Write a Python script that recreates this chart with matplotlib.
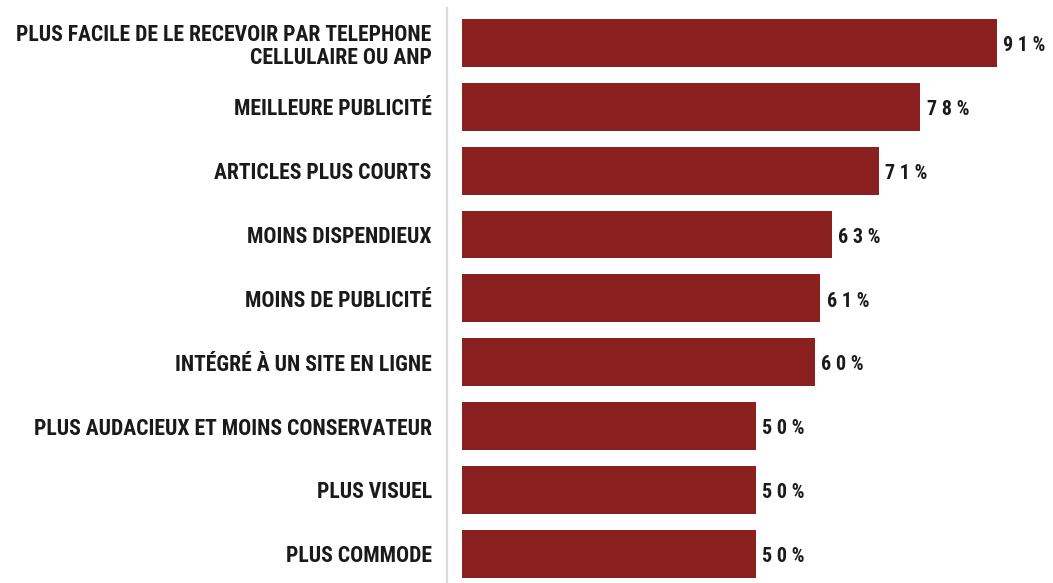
import matplotlib
matplotlib.use("Agg")
import matplotlib.pyplot as plt

categories = [
    "PLUS FACILE DE LE RECEVOIR PAR TELEPHONE\nCELLULAIRE OU ANP",
    "MEILLEURE PUBLICITÉ",
    "ARTICLES PLUS COURTS",
    "MOINS DISPENDIEUX",
    "MOINS DE PUBLICITÉ",
    "INTÉGRÉ À UN SITE EN LIGNE",
    "PLUS AUDACIEUX ET MOINS CONSERVATEUR",
    "PLUS VISUEL",
    "PLUS COMMODE",
]
values = [91, 78, 71, 63, 61, 60, 50, 50, 50]

BAR_COLOR = "#8B2020"
TEXT_COLOR = "#1a1a1a"
FONT = ["Roboto Condensed", "Liberation Sans", "DejaVu Sans"]

fig = plt.figure(figsize=(10.53, 5.83), dpi=100)
W, H = 1053, 583
ax = fig.add_axes([447 / W, 0, (W - 447) / W, 1 - 8 / H])

pos = list(range(len(categories)))
ax.barh(pos, values, height=0.75, color=BAR_COLOR, zorder=2)

ax.set_xlim(-2.6, 100.6)
ax.set_ylim(8.46, -0.55)

ax.set_yticks(pos)
ax.set_yticklabels(categories, fontsize=15.6, fontweight="bold",
                   family=FONT, color=TEXT_COLOR, linespacing=1.1)
ax.tick_params(axis="y", length=0, pad=11)
ax.set_xticks([])

for s in ["top", "right", "bottom"]:
    ax.spines[s].set_visible(False)
ax.spines["left"].set_color("#d9d9d9")
ax.spines["left"].set_linewidth(1.6)

for p, v in zip(pos, values):
    label = " ".join(f"{v}%")
    ax.annotate(label, xy=(v, p), xytext=(4.5, -2), textcoords="offset points",
                ha="left", va="center", fontsize=14.5, fontweight="bold",
                family=FONT, color=TEXT_COLOR)

fig.savefig("out.png", dpi=100)
